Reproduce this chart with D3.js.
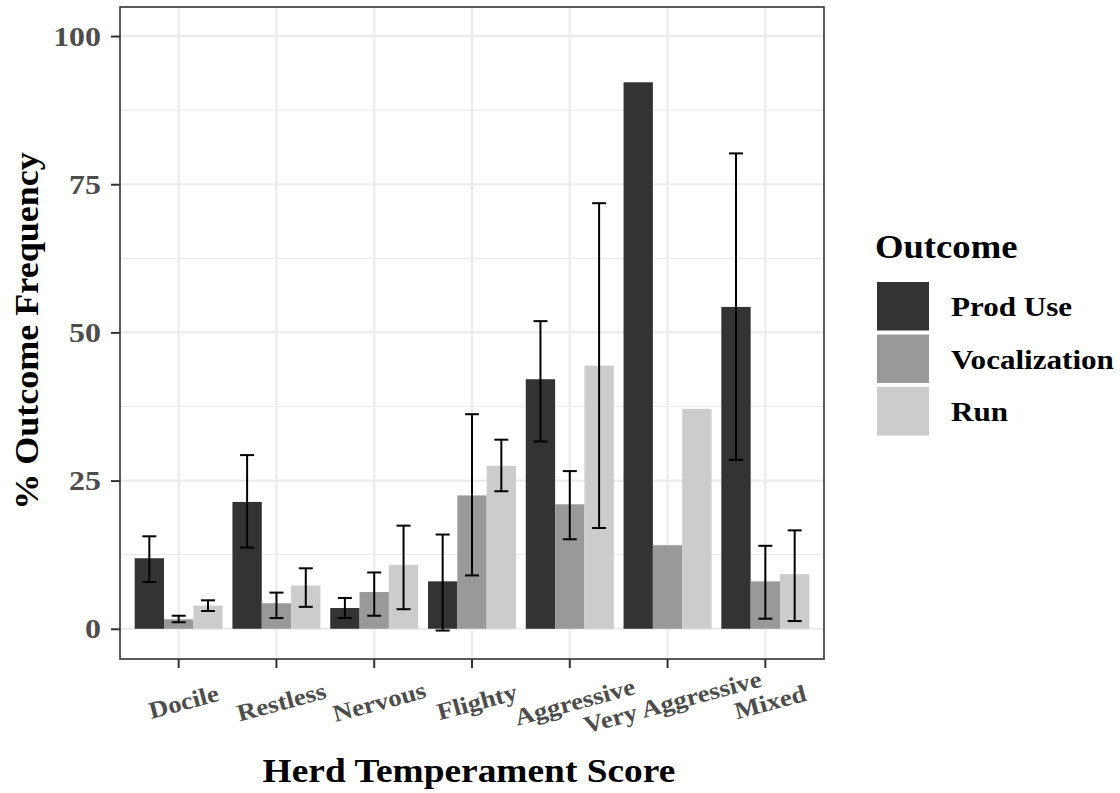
<!DOCTYPE html>
<html>
<head>
<meta charset="utf-8">
<script src="https://cdn.jsdelivr.net/npm/d3@7"></script>
<style>
  html, body { margin: 0; padding: 0; background: #fff; }
  svg { display: block; }
  text { font-family: "Liberation Serif", "DejaVu Serif", serif; }
</style>
</head>
<body>
<svg id="chart" width="1120" height="793"></svg>
<script>
// ---- data ----
const categories = ["Docile", "Restless", "Nervous", "Flighty", "Aggressive", "Very Aggressive", "Mixed"];
const series = ["Prod Use", "Vocalization", "Run"];
const seriesColors = ["#333333", "#999999", "#cccccc"];
const prodUse      = [11.9, 21.4, 3.5, 8.0, 42.1, 92.2, 54.3];
const prodUseLow   = [7.9, 13.7, 1.8, -0.3, 31.6, null, 28.5];
const prodUseHigh  = [15.6, 29.3, 5.2, 15.9, 51.9, null, 80.2];
const vocalization     = [1.6, 4.3, 6.2, 22.5, 21.0, 14.1, 8.0];
const vocalizationLow  = [1.1, 1.8, 2.2, 9.0, 15.1, null, 1.7];
const vocalizationHigh = [2.2, 6.1, 9.5, 36.2, 26.6, null, 14.0];
const run     = [3.9, 7.3, 10.8, 27.5, 44.4, 37.1, 9.2];
const runLow  = [3.0, 3.7, 3.3, 23.2, 17.0, null, 1.3];
const runHigh = [4.8, 10.2, 17.4, 31.9, 71.8, null, 16.6];
const yTicks = [0, 25, 50, 75, 100];
const yMinorTicks = [12.5, 37.5, 62.5, 87.5];

const seriesValues = [prodUse, vocalization, run];
const seriesLow = [prodUseLow, vocalizationLow, runLow];
const seriesHigh = [prodUseHigh, vocalizationHigh, runHigh];

const rows = [];
categories.forEach((c, i) => {
  series.forEach((s, j) => {
    rows.push({cat: c, s: s, j: j, v: seriesValues[j][i], lo: seriesLow[j][i], hi: seriesHigh[j][i]});
  });
});

// horizontal stretch helper (reference text is slightly wide-set)
function stretch(sel, f) {
  sel.each(function() {
    const len = this.getComputedTextLength();
    d3.select(this).attr("textLength", len * f).attr("lengthAdjust", "spacingAndGlyphs");
  });
}

// ---- layout ----
const panel = {left: 120, right: 824, top: 7, bottom: 659};
const svg = d3.select("#chart");

const x = d3.scaleBand().domain(categories).range([panel.left, panel.right]).paddingInner(0).paddingOuter(0.1);
const step = x.step();
const dodge = 0.9 * step;
const x1 = d3.scaleBand().domain(series).range([0, dodge]).padding(0);
const y = d3.scaleLinear().domain([-5.1, 104.9]).range([panel.bottom, panel.top]);
const color = d3.scaleOrdinal().domain(series).range(seriesColors);
const cx = c => x(c) + x.bandwidth() / 2;

// panel background + grid
const g = svg.append("g");
g.append("rect").attr("x", panel.left).attr("y", panel.top)
  .attr("width", panel.right - panel.left).attr("height", panel.bottom - panel.top)
  .attr("fill", "#fff");

g.selectAll(".minor").data(yMinorTicks).join("line")
  .attr("x1", panel.left).attr("x2", panel.right)
  .attr("y1", d => y(d)).attr("y2", d => y(d))
  .attr("stroke", "#ebebeb").attr("stroke-width", 1.2);
g.selectAll(".major").data(yTicks).join("line")
  .attr("x1", panel.left).attr("x2", panel.right)
  .attr("y1", d => y(d)).attr("y2", d => y(d))
  .attr("stroke", "#ebebeb").attr("stroke-width", 2.2);
g.selectAll(".vmajor").data(categories).join("line")
  .attr("x1", d => cx(d)).attr("x2", d => cx(d))
  .attr("y1", panel.top).attr("y2", panel.bottom)
  .attr("stroke", "#ebebeb").attr("stroke-width", 2.2);

// bars
g.selectAll(".bar").data(rows).join("rect")
  .attr("x", d => cx(d.cat) - dodge / 2 + x1(d.s))
  .attr("width", x1.bandwidth())
  .attr("y", d => y(d.v))
  .attr("height", d => y(0) - y(d.v))
  .attr("fill", d => color(d.s));

// error bars
const capW = 14;
const eb = rows.filter(d => d.lo !== null);
const ebG = g.selectAll(".eb").data(eb).join("g")
  .attr("stroke", "#000").attr("stroke-width", 2).attr("fill", "none");
ebG.each(function(d) {
  const xc = cx(d.cat) - dodge / 2 + x1(d.s) + x1.bandwidth() / 2;
  const sel = d3.select(this);
  sel.append("line").attr("x1", xc).attr("x2", xc).attr("y1", y(d.lo)).attr("y2", y(d.hi));
  sel.append("line").attr("x1", xc - capW / 2).attr("x2", xc + capW / 2).attr("y1", y(d.lo)).attr("y2", y(d.lo));
  sel.append("line").attr("x1", xc - capW / 2).attr("x2", xc + capW / 2).attr("y1", y(d.hi)).attr("y2", y(d.hi));
});

// panel border
g.append("rect").attr("x", panel.left).attr("y", panel.top)
  .attr("width", panel.right - panel.left).attr("height", panel.bottom - panel.top)
  .attr("fill", "none").attr("stroke", "#333333").attr("stroke-width", 1.6);

// y axis
const yAxis = d3.axisLeft(y).tickValues(yTicks).tickSize(9).tickPadding(10).tickFormat(d3.format("d"));
const yg = svg.append("g").attr("transform", `translate(${panel.left},0)`).call(yAxis);
yg.select(".domain").remove();
yg.selectAll(".tick line").attr("stroke", "#333333").attr("stroke-width", 2);
yg.selectAll(".tick text").attr("fill", "#4d4d4d").attr("font-size", 28).attr("font-weight", "bold")
  .attr("font-family", "Liberation Serif, serif");
stretch(yg.selectAll(".tick text"), 1.14);

// x axis
const xAxis = d3.axisBottom(x).tickSize(9).tickFormat("");
const xg = svg.append("g").attr("transform", `translate(0,${panel.bottom})`).call(xAxis);
xg.select(".domain").remove();
xg.selectAll(".tick line").attr("stroke", "#333333").attr("stroke-width", 2);

const xl = svg.append("g").selectAll("text").data(categories).join("text")
  .attr("transform", d => `translate(${cx(d) + 5},702) rotate(-15)`)
  .attr("text-anchor", "middle").attr("dominant-baseline", "central")
  .attr("font-size", 24).attr("font-weight", "bold").attr("fill", "#4d4d4d")
  .text(d => d);
stretch(xl, 1.12);

// axis titles
const xt = svg.append("text").attr("x", 469).attr("y", 782).attr("text-anchor", "middle")
  .attr("font-size", 34).attr("font-weight", "bold").attr("fill", "#000")
  .text("Herd Temperament Score");
stretch(xt, 1.1);
const yt = svg.append("text").attr("transform", "translate(26,331) rotate(-90)")
  .attr("text-anchor", "middle").attr("dominant-baseline", "central")
  .attr("font-size", 34).attr("font-weight", "bold").attr("fill", "#000")
  .text("% Outcome Frequency");
stretch(yt, 1.06);

// legend
const lg = svg.append("g");
const lt = lg.append("text").attr("x", 875).attr("y", 258).attr("font-size", 33).attr("font-weight", "bold")
  .attr("fill", "#000").text("Outcome");
stretch(lt, 1.11);
const keyH = 52.5, keyTop = 280;
const items = lg.selectAll(".item").data(series).join("g")
  .attr("transform", (d, i) => `translate(877,${keyTop + i * keyH})`);
items.append("rect").attr("x", 0).attr("y", 2).attr("width", 52).attr("height", keyH - 4)
  .attr("fill", d => color(d));
const ltx = items.append("text").attr("x", 74).attr("y", keyH / 2 + 10)
  .attr("font-size", 28).attr("font-weight", "bold").attr("fill", "#000")
  .text(d => d);
stretch(ltx, 1.11);
</script>
</body>
</html>
